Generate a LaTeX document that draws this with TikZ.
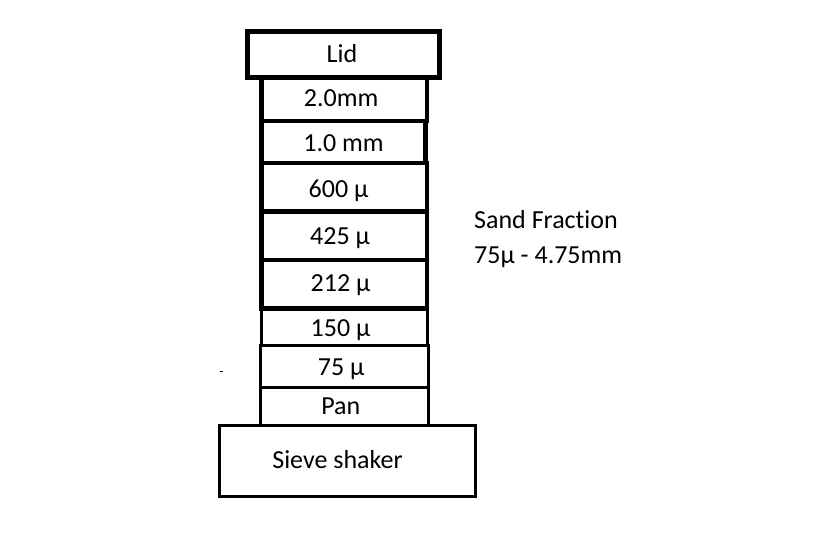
\documentclass[tikz,border=0pt]{standalone}
\usepackage{fontspec}
\setmainfont{Carlito}[Ligatures={NoCommon}]
\begin{document}
\begin{tikzpicture}[x=1pt,y=-1pt,
  box/.style={draw=black,rectangle,inner sep=0pt,outer sep=0pt,fill=white},
  thickbox/.style={box,line width=4.5pt},
  thinbox/.style={box,line width=3pt},
  lbl/.style={anchor=base,inner sep=0pt,font=\fontsize{26}{31}\selectfont},
  side/.style={anchor=base west,inner sep=0pt,font=\fontsize{26}{31}\selectfont}]
\useasboundingbox[fill=white] (0,0) rectangle (819,558);
% sieve shaker and lower sieves
\node[thinbox,minimum width=256.5pt,minimum height=71pt] (shaker) at (347.25,461) {};
\node[thinbox,minimum width=168pt,minimum height=38.5pt] (pan) at (344,406.25) {};
\node[thinbox,minimum width=168pt,minimum height=42pt] (s75) at (344,366) {};
\node[thinbox,minimum width=165.5pt,minimum height=36.5pt] (s150) at (344.25,326.75) {};
% upper sieves
\node[thickbox,minimum width=165.5pt,minimum height=48.5pt] (s212) at (344.25,284.25) {};
\node[thickbox,minimum width=165.5pt,minimum height=48.5pt] (s425) at (344.25,235.75) {};
\node[thickbox,minimum width=165.5pt,minimum height=48.5pt] (s600) at (344.25,187.25) {};
\node[thickbox,minimum width=164pt,minimum height=42pt] (s1000) at (343.5,142) {};
\node[thickbox,minimum width=165.5pt,minimum height=43.5pt] (s2000) at (344.25,99.25) {};
\node[box,line width=5pt,minimum width=192pt,minimum height=45.7pt] (lid) at (343.5,54.65) {};
% labels
\node[lbl] (tlid) at (342,62.7) {Lid};
\node[lbl] (t2000) at (341.2,106.7) {2.0mm};
\node[lbl] (t1000) at (343.5,151.7) {1.0 mm};
\node[lbl] (t600) at (338.5,197.3) {600 µ};
\node[lbl] (t425) at (340,244) {425 µ};
\node[lbl] (t212) at (340.5,291.7) {212 µ};
\node[lbl] (t150) at (340.5,336.7) {150 µ};
\node[lbl] (t75) at (341.2,375) {75 µ};
\node[lbl] (tpan) at (340.8,414) {Pan};
\node[lbl] (tshaker) at (337.5,468.3) {Sieve shaker};
\node[side] (sand1) at (474,228) {Sand Fraction};
\node[side] (sand2) at (474,263) {75µ - 4.75mm};
% stray dot
\fill[black] (220,370.5) rectangle (223,372);
\end{tikzpicture}
\end{document}
